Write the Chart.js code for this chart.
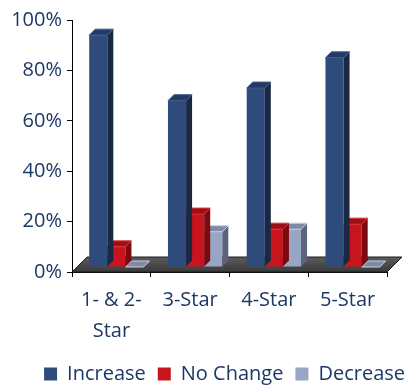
<!DOCTYPE html>
<html>
<head>
<meta charset="utf-8">
<title>Rate outlook by hotel class</title>
<script src="https://cdn.jsdelivr.net/npm/chart.js@4/dist/chart.umd.min.js"></script>
<style>
  html, body { margin: 0; padding: 0; background: #fff; }
  #wrap { width: 417px; height: 385px; }
</style>
</head>
<body>
<div id="wrap"><canvas id="outlookChart" width="417" height="385"></canvas></div>
<script>
const categories = [["1- & 2-", "Star"], "3-Star", "4-Star", "5-Star"];
const seriesNames = ["Increase", "No Change", "Decrease"];
const increaseShare = [92, 66, 71, 83];
const noChangeShare = [8, 21, 15, 17];
const decreaseShare = [0, 14, 15, 0];
const yTicks = [0, 20, 40, 60, 80, 100];

const navy = "#1c3866";
const faces = [
  { front: "#2f4b7c", side: "#1a2843", top: "#233a63", edge: "#3f5a8c" },
  { front: "#c8141c", side: "#7a0a0e", top: "#9c0f15", edge: "#d8343a" },
  { front: "#99a5c5", side: "#5b6478", top: "#7f8aa5", edge: "#c7cfe2" }
];

const DEPTH = 6;   // thickness of each bar, drawn up and to the right
const SHIFT = 5;   // bars stand this far back on the floor
const FLOOR = 15;  // depth of the floor slab

Chart.defaults.font.family = "'Open Sans', sans-serif";
Chart.defaults.font.size = 20;
Chart.defaults.color = navy;

// floor under the bars plus side and top faces for every bar
const depthBars = {
  id: "depthBars",
  beforeDatasetsDraw(chart) {
    const { ctx, chartArea: a } = chart;
    ctx.save();
    ctx.beginPath();
    ctx.moveTo(a.left, a.bottom);
    ctx.lineTo(a.right, a.bottom);
    ctx.lineTo(a.right + FLOOR, a.bottom - FLOOR);
    ctx.lineTo(a.left + FLOOR, a.bottom - FLOOR);
    ctx.closePath();
    const g = ctx.createLinearGradient(0, a.bottom - FLOOR, 0, a.bottom);
    g.addColorStop(0, "#5c5c5c");
    g.addColorStop(1, "#3a3a3a");
    ctx.fillStyle = g;
    ctx.fill();
    ctx.strokeStyle = "#1c1c1c";
    ctx.lineWidth = 1;
    ctx.stroke();
    ctx.restore();

    ctx.save();
    ctx.translate(SHIFT, -SHIFT);
  },
  afterDatasetDraw(chart, args) {
    const ctx = chart.ctx;
    const f = faces[args.index];
    args.meta.data.forEach(bar => {
      const { x, y, base, width } = bar.getProps(["x", "y", "base", "width"], true);
      const l = x - width / 2, r = x + width / 2;
      ctx.fillStyle = f.side;
      ctx.beginPath();
      ctx.moveTo(r, base);
      ctx.lineTo(r, y);
      ctx.lineTo(r + DEPTH, y - DEPTH);
      ctx.lineTo(r + DEPTH, base - DEPTH);
      ctx.closePath();
      ctx.fill();

      ctx.fillStyle = f.top;
      ctx.beginPath();
      ctx.moveTo(l, y);
      ctx.lineTo(r, y);
      ctx.lineTo(r + DEPTH, y - DEPTH);
      ctx.lineTo(l + DEPTH, y - DEPTH);
      ctx.closePath();
      ctx.fill();
      ctx.strokeStyle = f.edge;
      ctx.lineWidth = 1;
      ctx.stroke();
    });
  },
  afterDatasetsDraw(chart) {
    chart.ctx.restore();
  }
};

const ctx = document.getElementById("outlookChart").getContext("2d");
const outlookChart = new Chart(ctx, {
  type: "bar",
  data: {
    labels: categories,
    datasets: [
      { label: seriesNames[0], data: increaseShare, backgroundColor: faces[0].front },
      { label: seriesNames[1], data: noChangeShare, backgroundColor: faces[1].front },
      { label: seriesNames[2], data: decreaseShare, backgroundColor: faces[2].front }
    ]
  },
  options: {
    responsive: false,
    animation: false,
    events: [],
    datasets: {
      bar: { categoryPercentage: 0.69, barPercentage: 1, clip: false }
    },
    layout: {
      padding: { top: 20, left: 0, right: 0, bottom: -9 }
    },
    scales: {
      x: {
        grid: { drawOnChartArea: false, color: "#000", tickLength: 5, offset: true },
        border: { color: "#000" },
        ticks: { maxRotation: 0, autoSkip: false, padding: 8, font: { size: 20, lineHeight: 1.55 } },
        afterFit(scale) { scale.height = 80; }
      },
      y: {
        min: 0,
        max: 100,
        afterBuildTicks(scale) { scale.ticks = yTicks.map(v => ({ value: v })); },
        grid: { drawOnChartArea: false, color: "#000", tickLength: 5 },
        border: { color: "#000" },
        ticks: { padding: 5, callback: v => v + "%" },
        afterFit(scale) { scale.width = 72; }
      },
      yRight: {
        position: "right",
        grid: { display: false },
        border: { display: false },
        ticks: { display: false },
        afterFit(scale) { scale.width = 30; }
      }
    },
    plugins: {
      tooltip: { enabled: false },
      legend: {
        position: "bottom",
        align: "end",
        labels: { boxWidth: 13, boxHeight: 13, padding: 12, color: navy, font: { size: 20 } }
      }
    }
  },
  plugins: [depthBars]
});
</script>
</body>
</html>
